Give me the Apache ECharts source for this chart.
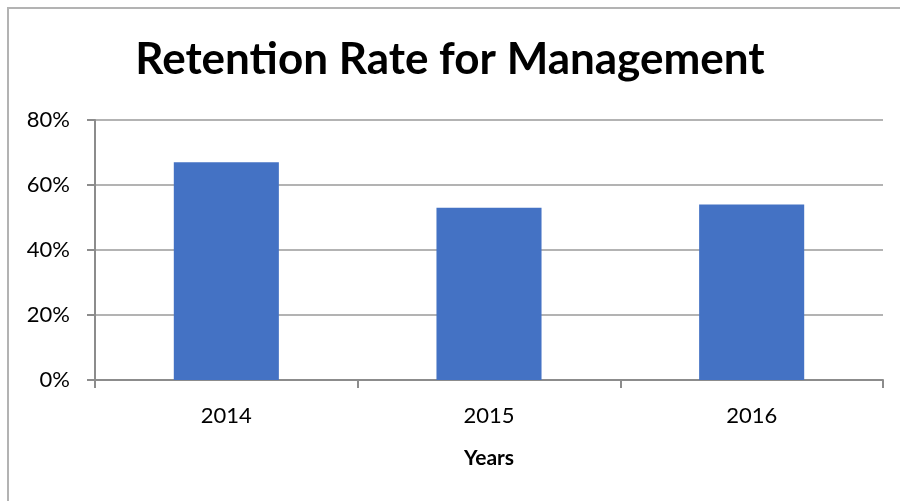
<!DOCTYPE html>
<html>
<head>
<meta charset="utf-8">
<script src="https://cdn.jsdelivr.net/npm/echarts@6/dist/echarts.min.js"></script>
<style>
  html, body { margin: 0; padding: 0; background: #fff; }
  #wrap { position: relative; width: 900px; height: 501px; overflow: hidden; }
  #frame { position: absolute; left: 7px; top: 7px; width: 1000px; height: 600px;
           border-left: 2px solid #b3b3b3; border-top: 2px solid #b3b3b3; }
  #chart { position: absolute; left: 0; top: 0; width: 900px; height: 501px; }
</style>
</head>
<body>
<div id="wrap">
  <div id="frame"></div>
  <div id="chart"></div>
</div>
<script>
  // chart data
  const years = ['2014', '2015', '2016']
  const retention = [67, 53, 54]
  const yTicks = [0, 20, 40, 60, 80]

  const font = 'Lato, "Open Sans", sans-serif'
  const myChart = echarts.init(document.getElementById('chart'))
  myChart.setOption({
    animation: false,
    title: {
      text: 'Retention Rate for Management',
      left: 'center',
      top: 33,
      textStyle: { fontFamily: font, fontSize: 44, fontWeight: 'bold', color: '#000' }
    },
    grid: { left: 95, right: 17, top: 120, bottom: 121 },
    xAxis: {
      type: 'category',
      data: years,
      name: 'Years',
      nameLocation: 'middle',
      nameGap: 68,
      nameTextStyle: { fontFamily: font, fontSize: 21, fontWeight: 'bold', color: '#000' },
      axisLine: { lineStyle: { color: '#8c8c8c', width: 2 } },
      axisTick: { show: true, length: 8, alignWithLabel: false, lineStyle: { color: '#8c8c8c', width: 2 } },
      axisLabel: { fontFamily: font, fontSize: 22, color: '#000', margin: 25 }
    },
    yAxis: {
      type: 'value',
      min: yTicks[0],
      max: yTicks[yTicks.length - 1],
      interval: 20,
      axisLine: { show: true, lineStyle: { color: '#8c8c8c', width: 2 } },
      axisTick: { show: true, length: 8, lineStyle: { color: '#8c8c8c', width: 2 } },
      splitLine: { lineStyle: { color: '#b3b3b3', width: 2 } },
      axisLabel: { fontFamily: font, fontSize: 22, color: '#000', margin: 25, formatter: '{value}%' }
    },
    series: [{
      type: 'bar',
      data: retention,
      barWidth: '40%',
      itemStyle: { color: '#4472c4' }
    }]
  })
</script>
</body>
</html>
